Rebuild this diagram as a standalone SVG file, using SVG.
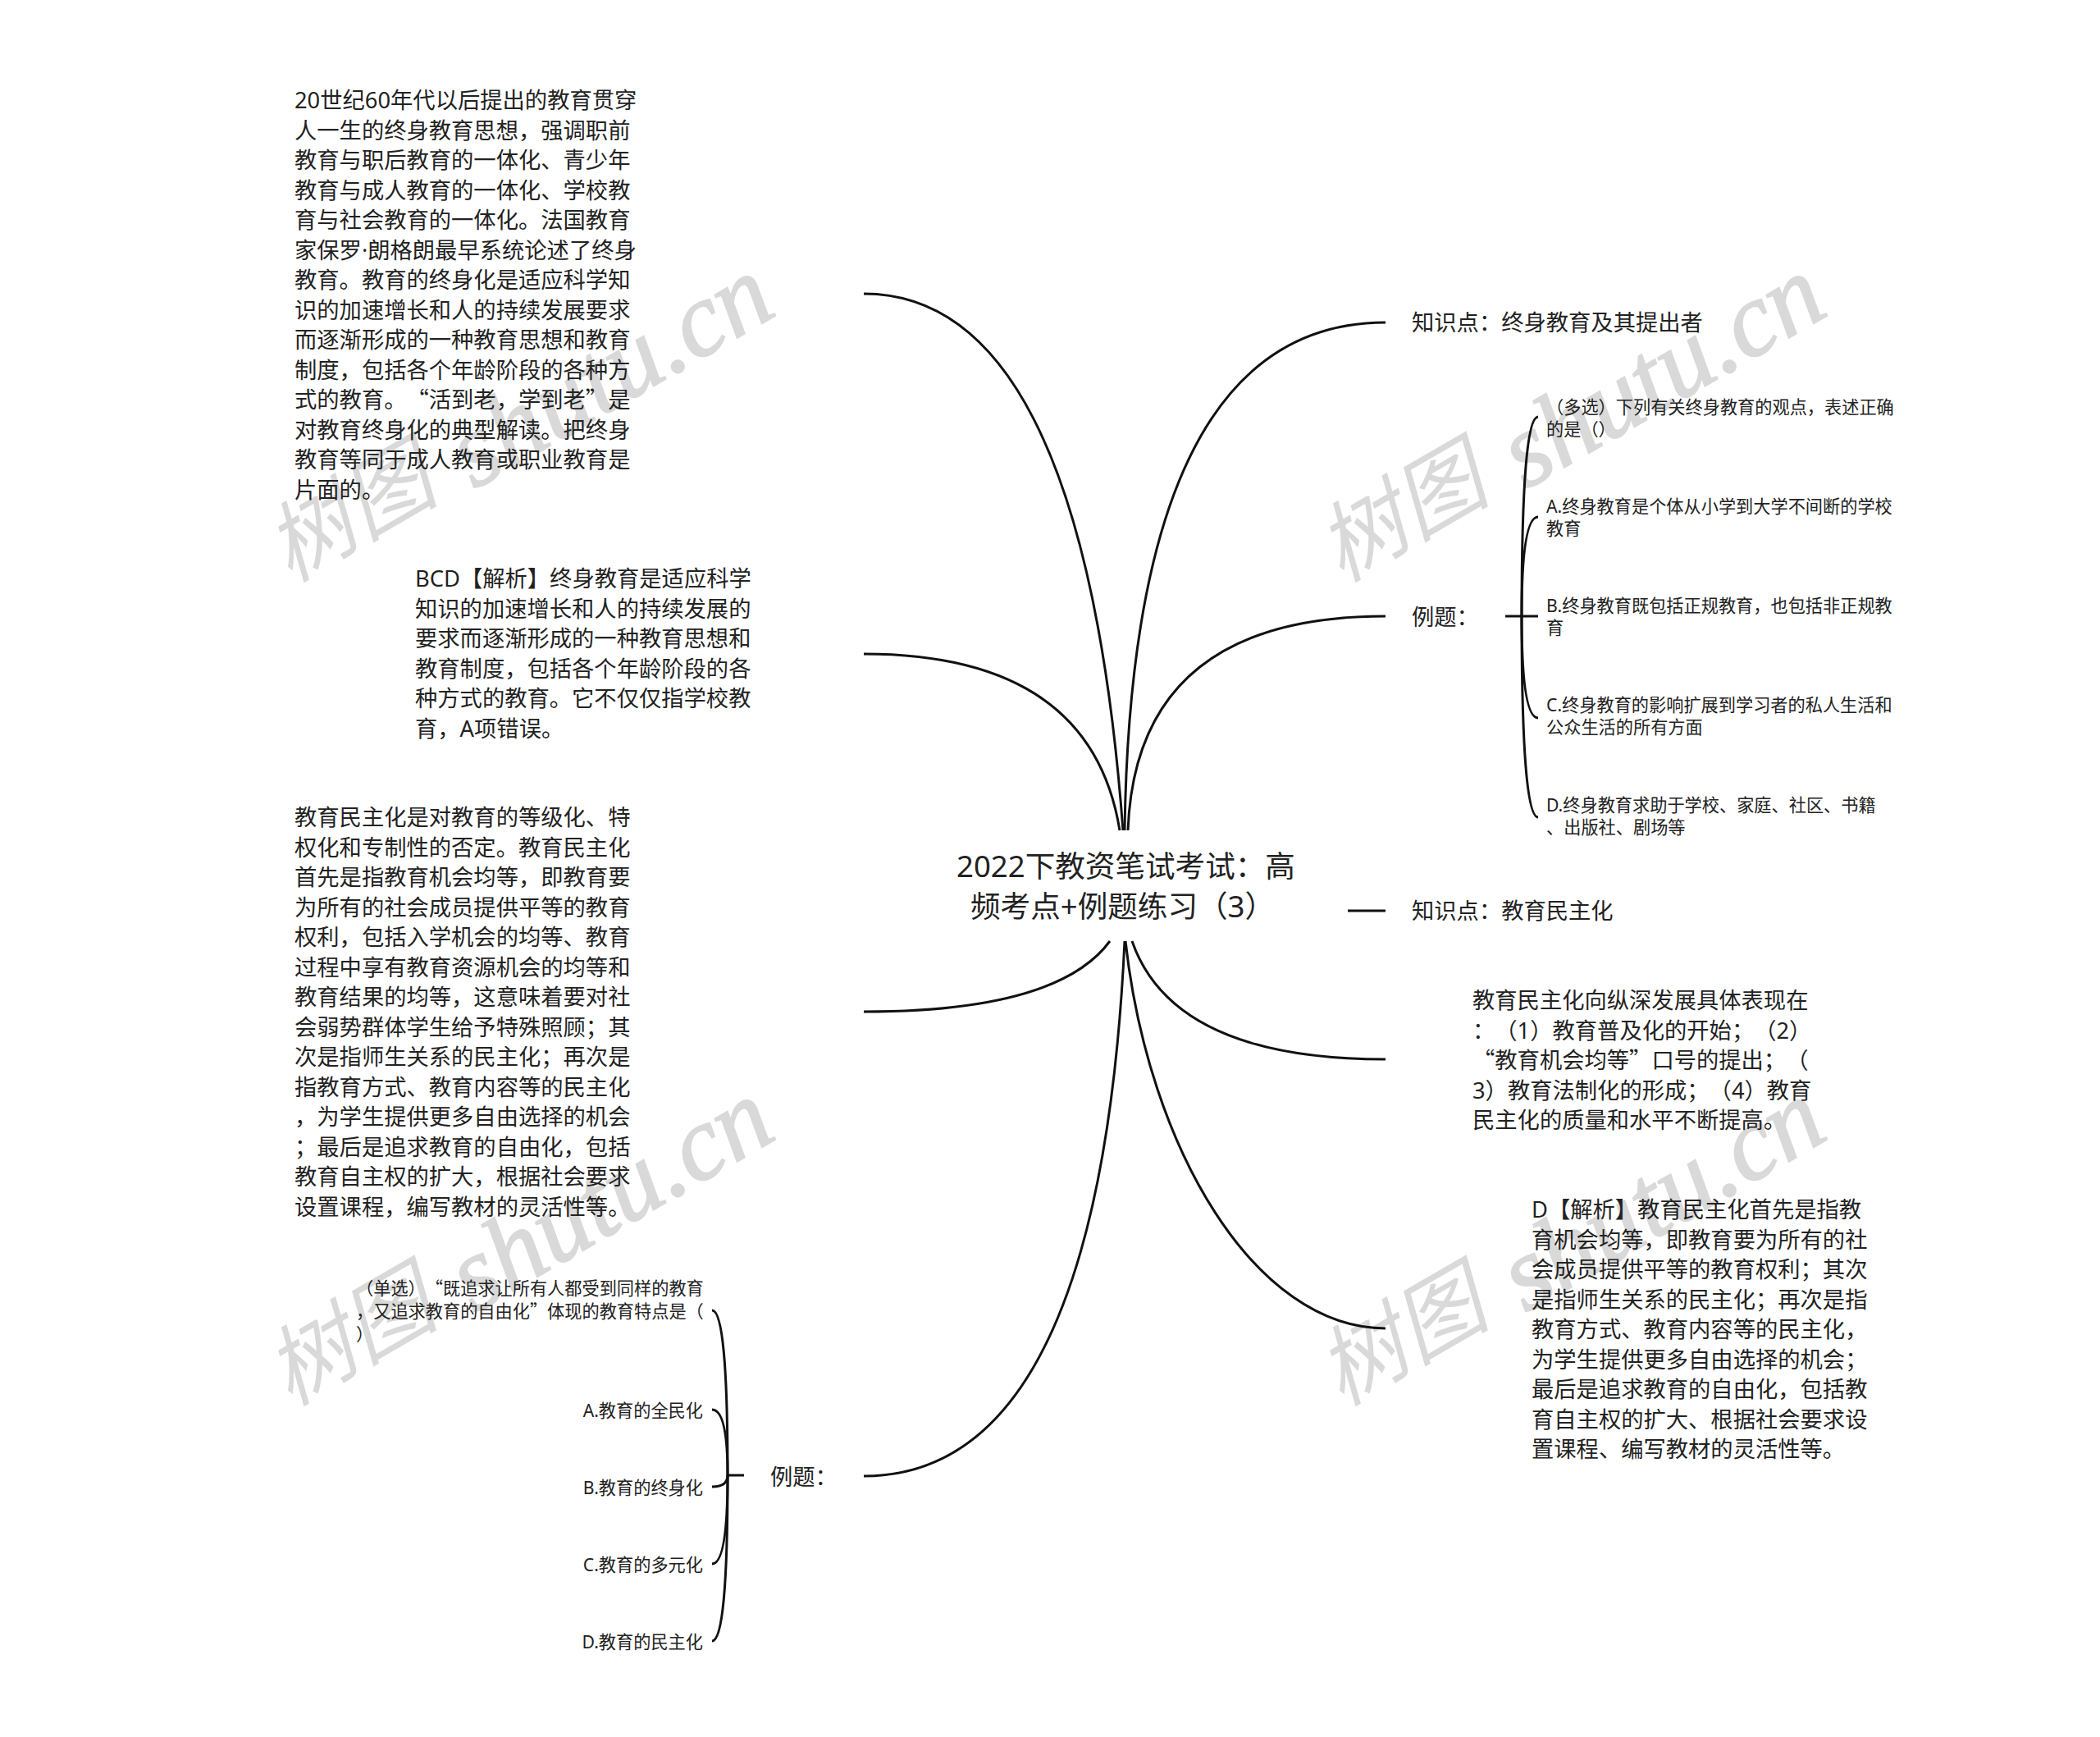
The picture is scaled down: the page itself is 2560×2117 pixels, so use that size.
<svg xmlns="http://www.w3.org/2000/svg" width="2560" height="2117" viewBox="0 0 2560 2117">
<style>
text{font-family:"Noto Sans","Noto Sans CJK SC",sans-serif;fill:#222;text-spacing-trim:space-all}
.m{font-size:27.3px}
.s{font-size:21.2px}
.t{font-size:36.6px}
.q{font-family:"Noto Sans CJK SC",sans-serif}
.w{font-family:"Liberation Serif","Noto Sans CJK SC",serif;font-style:italic;fill:#d9d9d9}
.wc{font-size:106px}
.wl{font-size:128px;stroke:#d9d9d9;stroke-width:2}
.c{fill:none;stroke:#111;stroke-width:3}
.b{fill:none;stroke:#111;stroke-width:3}
</style>
<rect width="2560" height="2117" fill="#fff"/>
<g id="watermarks">
<text class="w" transform="translate(382,710) rotate(-30)"><tspan class="wc" x="-25" y="-14">树图</tspan><tspan class="wl" x="226" y="0">shutu.cn</tspan></text>
<text class="w" transform="translate(1664,710) rotate(-30)"><tspan class="wc" x="-25" y="-14">树图</tspan><tspan class="wl" x="226" y="0">shutu.cn</tspan></text>
<text class="w" transform="translate(382,1714) rotate(-30)"><tspan class="wc" x="-25" y="-14">树图</tspan><tspan class="wl" x="226" y="0">shutu.cn</tspan></text>
<text class="w" transform="translate(1664,1714) rotate(-30)"><tspan class="wc" x="-25" y="-14">树图</tspan><tspan class="wl" x="226" y="0">shutu.cn</tspan></text>
</g>
<g id="connectors">
<path class="c" d="M1053,358 Q1320,358 1369,1012"/>
<path class="c" d="M1053,797 Q1330,797 1365,1012"/>
<path class="c" d="M1689,393 Q1380,393 1371,1012"/>
<path class="c" d="M1689,751 Q1385,751 1375,1012"/>
<path class="b" d="M1643,1110H1689"/>
<path class="c" d="M1053,1233 Q1290,1233 1353,1147"/>
<path class="c" d="M1053,1799 Q1340,1799 1371,1147"/>
<path class="c" d="M1689,1291 Q1430,1291 1380,1147"/>
<path class="c" d="M1689,1619 C1530,1619 1400,1400 1372,1147"/>
<path class="b" d="M1835,751H1875"/>
<path class="c" d="M1855,751 Q1855,508 1875,508"/>
<path class="c" d="M1855,751 Q1855,630 1875,630"/>
<path class="c" d="M1855,751 Q1855,875 1875,875"/>
<path class="c" d="M1855,751 Q1855,996 1875,996"/>
<path class="b" d="M907,1798H887"/>
<path class="c" d="M887,1798 Q887,1597 868,1597"/>
<path class="c" d="M887,1798 Q887,1718 868,1718"/>
<path class="c" d="M887,1798 Q887,1812 868,1812"/>
<path class="c" d="M887,1798 Q887,1906 868,1906"/>
<path class="c" d="M887,1798 Q887,2000 868,2000"/>
</g>
<g id="root"><text class="t" x="1166" y="1069">2022下教资笔试考试：高</text><text class="t" x="1183" y="1118">频考点+例题练习（3）</text></g>
<g id="n-left-1"><text class="m">
<tspan x="359" y="132">20世纪60年代以后提出的教育贯穿</tspan>
<tspan x="359" y="168.5">人一生的终身教育思想，强调职前</tspan>
<tspan x="359" y="205">教育与职后教育的一体化、青少年</tspan>
<tspan x="359" y="241.5">教育与成人教育的一体化、学校教</tspan>
<tspan x="359" y="278">育与社会教育的一体化。法国教育</tspan>
<tspan x="359" y="314.5">家保罗·朗格朗最早系统论述了终身</tspan>
<tspan x="359" y="351">教育。教育的终身化是适应科学知</tspan>
<tspan x="359" y="387.5">识的加速增长和人的持续发展要求</tspan>
<tspan x="359" y="424">而逐渐形成的一种教育思想和教育</tspan>
<tspan x="359" y="460.5">制度，包括各个年龄阶段的各种方</tspan>
<tspan x="359" y="497">式的教育。<tspan class="q">“</tspan>活到老，学到老<tspan class="q">”</tspan>是</tspan>
<tspan x="359" y="533.5">对教育终身化的典型解读。把终身</tspan>
<tspan x="359" y="570">教育等同于成人教育或职业教育是</tspan>
<tspan x="359" y="606.5">片面的。</tspan>
</text></g>
<g id="n-left-2"><text class="m">
<tspan x="506" y="715">BCD【解析】终身教育是适应科学</tspan>
<tspan x="506" y="751.5">知识的加速增长和人的持续发展的</tspan>
<tspan x="506" y="788">要求而逐渐形成的一种教育思想和</tspan>
<tspan x="506" y="824.5">教育制度，包括各个年龄阶段的各</tspan>
<tspan x="506" y="861">种方式的教育。它不仅仅指学校教</tspan>
<tspan x="506" y="897.5">育，A项错误。</tspan>
</text></g>
<g id="n-left-3"><text class="m">
<tspan x="359" y="1006">教育民主化是对教育的等级化、特</tspan>
<tspan x="359" y="1042.5">权化和专制性的否定。教育民主化</tspan>
<tspan x="359" y="1079">首先是指教育机会均等，即教育要</tspan>
<tspan x="359" y="1115.5">为所有的社会成员提供平等的教育</tspan>
<tspan x="359" y="1152">权利，包括入学机会的均等、教育</tspan>
<tspan x="359" y="1188.5">过程中享有教育资源机会的均等和</tspan>
<tspan x="359" y="1225">教育结果的均等，这意味着要对社</tspan>
<tspan x="359" y="1261.5">会弱势群体学生给予特殊照顾；其</tspan>
<tspan x="359" y="1298">次是指师生关系的民主化；再次是</tspan>
<tspan x="359" y="1334.5">指教育方式、教育内容等的民主化</tspan>
<tspan x="359" y="1371">，为学生提供更多自由选择的机会</tspan>
<tspan x="359" y="1407.5">；最后是追求教育的自由化，包括</tspan>
<tspan x="359" y="1444">教育自主权的扩大，根据社会要求</tspan>
<tspan x="359" y="1480.5">设置课程，编写教材的灵活性等。</tspan>
</text></g>
<g id="n-left-4"><text class="m" x="939" y="1810">例题：</text></g>
<g id="n-q2"><text class="s">
<tspan x="434" y="1578">（单选）<tspan class="q">“</tspan>既追求让所有人都受到同样的教育</tspan>
<tspan x="434" y="1606">，又追求教育的自由化<tspan class="q">”</tspan>体现的教育特点是（</tspan>
<tspan x="434" y="1634">）</tspan>
</text></g>
<g id="n-q2-a"><text class="s" x="857" y="1727" text-anchor="end">A.教育的全民化</text></g>
<g id="n-q2-b"><text class="s" x="857" y="1821" text-anchor="end">B.教育的终身化</text></g>
<g id="n-q2-c"><text class="s" x="857" y="1915" text-anchor="end">C.教育的多元化</text></g>
<g id="n-q2-d"><text class="s" x="857" y="2009" text-anchor="end">D.教育的民主化</text></g>
<g id="n-right-1"><text class="m" x="1721" y="403">知识点：终身教育及其提出者</text></g>
<g id="n-right-2"><text class="m" x="1721" y="762">例题：</text></g>
<g id="n-q1"><text class="s"><tspan x="1885" y="504">（多选）下列有关终身教育的观点，表述正确</tspan><tspan x="1885" y="531">的是（）</tspan></text></g>
<g id="n-q1-a"><text class="s"><tspan x="1885" y="625">A.终身教育是个体从小学到大学不间断的学校</tspan><tspan x="1885" y="652">教育</tspan></text></g>
<g id="n-q1-b"><text class="s"><tspan x="1885" y="746">B.终身教育既包括正规教育，也包括非正规教</tspan><tspan x="1885" y="773">育</tspan></text></g>
<g id="n-q1-c"><text class="s"><tspan x="1885" y="867">C.终身教育的影响扩展到学习者的私人生活和</tspan><tspan x="1885" y="894">公众生活的所有方面</tspan></text></g>
<g id="n-q1-d"><text class="s"><tspan x="1885" y="989">D.终身教育求助于学校、家庭、社区、书籍</tspan><tspan x="1885" y="1016">、出版社、剧场等</tspan></text></g>
<g id="n-right-3"><text class="m" x="1721" y="1120">知识点：教育民主化</text></g>
<g id="n-right-4"><text class="m">
<tspan x="1795" y="1229">教育民主化向纵深发展具体表现在</tspan>
<tspan x="1795" y="1265.5">：（1）教育普及化的开始；（2）</tspan>
<tspan x="1795" y="1302"><tspan class="q">“</tspan>教育机会均等<tspan class="q">”</tspan>口号的提出；（</tspan>
<tspan x="1795" y="1338.5">3）教育法制化的形成；（4）教育</tspan>
<tspan x="1795" y="1375">民主化的质量和水平不断提高。</tspan>
</text></g>
<g id="n-right-5"><text class="m">
<tspan x="1867" y="1484">D【解析】教育民主化首先是指教</tspan>
<tspan x="1867" y="1520.5">育机会均等，即教育要为所有的社</tspan>
<tspan x="1867" y="1557">会成员提供平等的教育权利；其次</tspan>
<tspan x="1867" y="1593.5">是指师生关系的民主化；再次是指</tspan>
<tspan x="1867" y="1630">教育方式、教育内容等的民主化，</tspan>
<tspan x="1867" y="1666.5">为学生提供更多自由选择的机会；</tspan>
<tspan x="1867" y="1703">最后是追求教育的自由化，包括教</tspan>
<tspan x="1867" y="1739.5">育自主权的扩大、根据社会要求设</tspan>
<tspan x="1867" y="1776">置课程、编写教材的灵活性等。</tspan>
</text></g>
</svg>
